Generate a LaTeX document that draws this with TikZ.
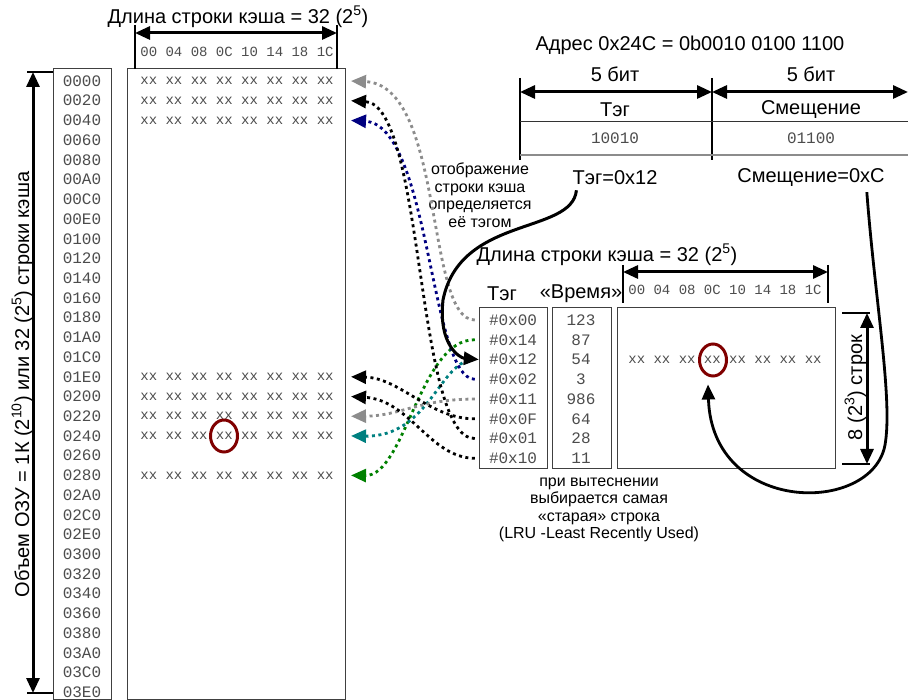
\documentclass[tikz,border=0pt]{standalone}
\usepackage{fontspec}
\setmainfont{Liberation Sans}
\setmonofont{Liberation Mono}
\usetikzlibrary{positioning}
\usetikzlibrary{arrows.meta}
\usetikzlibrary{shapes.geometric}

\definecolor{mapgray}{RGB}{140,140,140}
\definecolor{mapnavy}{RGB}{0,0,128}
\definecolor{mapteal}{RGB}{0,128,128}
\definecolor{mapgreen}{RGB}{0,128,0}
\definecolor{hitred}{RGB}{128,0,0}

\begin{document}
\begin{tikzpicture}[
    x=1pt, y=-1pt,
    >={Triangle[length=15pt,width=13pt]},
    every node/.style={inner sep=0pt},
    big/.style={font=\fontsize{20}{23}\selectfont},
    small/.style={font=\fontsize{16}{17.5}\selectfont, align=center},
    hexnum/.style={font=\ttfamily\fontsize{16}{18}\selectfont, text=black!70},
    hexrow/.style={font=\ttfamily\fontsize{14}{16}\selectfont, text=black!70},
    memframe/.style={draw=black!75, line width=1pt},
    dimline/.style={line width=3pt, <->},
    tickline/.style={line width=2.5pt},
    tagmap/.style={line width=2.8pt, dash pattern=on 3pt off 3.5pt, ->},
    hitmark/.style={ellipse, draw=hitred, line width=3pt, minimum width=27pt, minimum height=32pt},
  ]
    \useasboundingbox (0,0) rectangle (908,700);

    % memory
    \draw[memframe] (53,69) rectangle (111,699);
    \draw[memframe] (127,69) rectangle (345,699);
    \foreach \a [count=\i] in {0000,0020,0040,0060,0080,00A0,00C0,00E0,
        0100,0120,0140,0160,0180,01A0,01C0,01E0,0200,0220,0240,0260,0280,02A0,
        02C0,02E0,0300,0320,0340,0360,0380,03A0,03C0,03E0}{
      \pgfmathsetmacro\y{81+19.72*(\i-1)}
      \node[hexnum] (a\i) at (82,\y) {\a};
      \coordinate (r\i) at (351,\y);
    }
    \foreach \i in {1,2,3,16,17,18,19,21}{
      \pgfmathsetmacro\y{81+19.72*(\i-1)}
      \node[hexrow] (m\i) at (237,\y) {xx xx xx xx xx xx xx xx};
    }
    \node[hitmark] (mc) at (224,436) {};

    \node[big] (memlen) at (238,17) {Длина строки кэша = 32 (2\textsuperscript{5})};
    \node[hexrow] (memcols) at (237,52) {00 04 08 0C 10 14 18 1C};
    \draw[tickline] (135,25) -- (135,69) (337,25) -- (337,69);
    \coordinate (ml) at (135,33);
    \coordinate (mr) at (337,33);
    \draw[dimline] (ml) -- (mr);

    \draw[tickline] (27,72) -- (53,72) (27,693) -- (53,693);
    \coordinate (rt) at (33,72);
    \coordinate (rb) at (33,693);
    \draw[dimline] (rt) -- (rb);
    \node[big, rotate=90, anchor=base] (ramsize) at (29,384.5)
      {Объем ОЗУ = 1К (2\textsuperscript{10}) или 32 (2\textsuperscript{5}) строки кэша};

    % address
    \node[big] (addr) at (690,45) {Адрес 0x24C = 0b0010 0100 1100};
    \draw[tickline] (520,78) -- (520,160) (712,78) -- (712,160);
    \coordinate (al) at (520,92);
    \coordinate (am) at (712,92);
    \coordinate (ar) at (908,92);
    \draw[dimline] (al) -- (am);
    \draw[dimline] (am) -- (ar);
    \draw[black!80, line width=1pt] (520,122) -- (908,122);
    \draw[black!45, line width=1.5pt] (520,155) -- (908,155);
    \node[big] (tagbits) at (615,74) {5 бит};
    \node[big] (offbits) at (811,74) {5 бит};
    \node[big] (tagname) at (615,110) {Тэг};
    \node[big] (offname) at (811,110) {Смещение};
    \node[hexnum] (tagbin) at (615,138) {10010};
    \node[hexnum] (offbin) at (811,138) {01100};
    \node[big] (tagval) at (615,178) {Тэг=0x12};
    \node[big] (offval) at (811,178) {Смещение=0xC};

    \node[small] (mapnote) at (480,195) {отображение\\строки кэша\\определяется\\её тэгом};

    % cache
    \node[big] (cachelen) at (607,255) {Длина строки кэша = 32 (2\textsuperscript{5})};
    \node[hexrow] (cachecols) at (725,290) {00 04 08 0C 10 14 18 1C};
    \draw[tickline] (623,265) -- (623,303) (828,265) -- (828,303);
    \coordinate (cl) at (623,272);
    \coordinate (cr) at (828,272);
    \draw[dimline] (cl) -- (cr);
    \node[big] (taghead) at (502,294) {Тэг};
    \node[big] (timehead) at (581,294) {«Время»};

    \draw[memframe] (479,308) rectangle (547,469);
    \draw[memframe] (552,308) rectangle (611,469);
    \draw[memframe] (617,308) rectangle (835,469);
    \foreach \t/\v [count=\j from 0] in {00/123,14/87,12/54,02/3,11/986,0F/64,01/28,10/11}{
      \pgfmathsetmacro\y{320+19.76*\j}
      \node[hexnum, minimum width=68pt] (t\j) at (513,\y) {\#0x\t};
      \node[hexnum] (v\j) at (581,\y) {\v};
    }
    \node[hexrow] (cacherow) at (725,360) {xx xx xx xx xx xx xx xx};
    \node[hitmark] (cc) at (713,360) {};

    \draw[tickline] (842,313) -- (870,313) (842,464) -- (870,464);
    \coordinate (ct) at (867,313);
    \coordinate (cb) at (867,464);
    \draw[dimline] (ct) -- (cb);
    \node[big, rotate=90, anchor=base] (cachesize) at (862,387.5) {8 (2\textsuperscript{3}) строк};

    \node[small] (lrunote) at (599,510)
      {при вытеснении\\выбирается самая\\«старая» строка\\(LRU -Least Recently Used)};

    % tag -> memory line
    \draw[tagmap, mapgray]  ([xshift=-4pt]t0.west) .. controls (425,320) and (445,85) .. (r1);
    \draw[tagmap, mapgreen] ([xshift=-4pt]t1.west) .. controls (420,339) and (405,476) .. (r21);
    \draw[tagmap, mapteal]  ([xshift=-4pt]t2.west) .. controls (440,359) and (430,437) .. (r19);
    \draw[tagmap, mapnavy]  ([xshift=-4pt]t3.west) .. controls (430,379) and (430,125) .. (r3);
    \draw[tagmap, mapgray]  ([xshift=-4pt]t4.west) .. controls (420,399) and (400,416) .. (r18);
    \draw[tagmap, black]    ([xshift=-4pt]t5.west) .. controls (430,419) and (400,378) .. (r16);
    \draw[tagmap, black]    ([xshift=-4pt]t6.west) .. controls (415,439) and (425,105) .. (r2);
    \draw[tagmap, black]    ([xshift=-4pt]t7.west) .. controls (430,458) and (410,400) .. (r17);

    % fields -> cache
    \draw[line width=3pt, ->] ([shift={(4pt,-5pt)}]tagval.south west)
      .. controls (572,235) and (460,215) .. (443,300)
      .. controls (438,345) and (460,358) .. (t2.west);
    \draw[line width=2.8pt, ->] ([shift={(-18pt,-5pt)}]offval.south east)
      .. controls (875,300) and (893,400) .. (885,445)
      .. controls (872,515) and (712,515) .. ([shift={(-5pt,-7pt)}]cc.south);
  \end{tikzpicture}
\end{document}
